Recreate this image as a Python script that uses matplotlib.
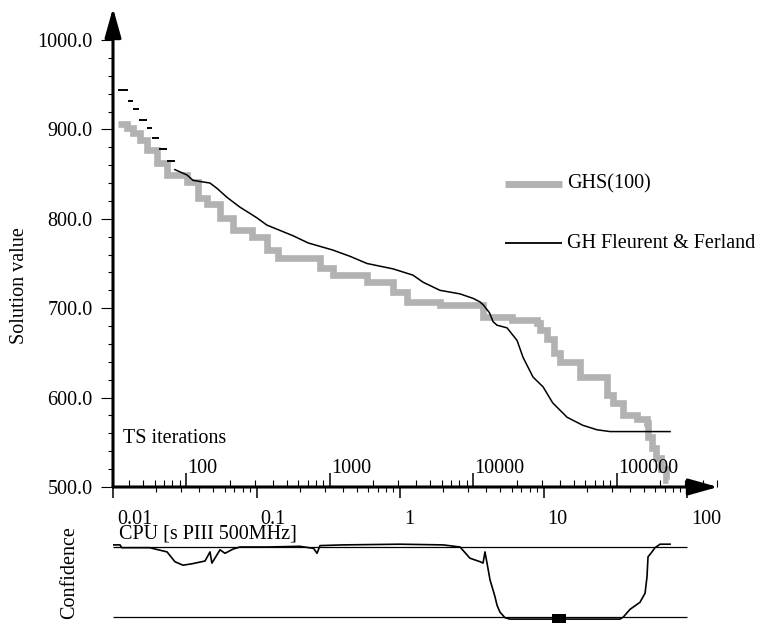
import matplotlib
matplotlib.use('Agg')
import matplotlib.pyplot as plt
import matplotlib.transforms as mtrans
from matplotlib.ticker import FixedLocator, LogLocator, NullFormatter, FormatStrFormatter
import numpy as np

# ---------------- data ----------------
# GHS(100): CPU time [s] and solution value (step series)
ghs_t = [0.0108, 0.0125, 0.0138, 0.0154, 0.0173, 0.0203, 0.0238, 0.0328, 0.0391, 0.0452,
         0.0557, 0.0686, 0.093, 0.118, 0.141, 0.277, 0.341, 0.589, 0.894, 1.12,
         1.90, 3.79, 6.0, 9.01, 9.46, 10.5, 11.9, 13.0, 17.9, 27.7,
         30.5, 35.8, 45.0, 52.6, 53.5, 57.0, 61.0, 66.0, 71.0, 74.0]
ghs_v = [906, 902, 896, 888, 877, 862, 849, 841, 823, 817,
         801, 787, 780, 765, 756, 745, 737, 729, 718, 707,
         704, 690, 687, 684, 676, 666, 650, 640, 623, 603,
         594, 580, 576, 572, 556, 544, 532, 520, 508, 508]

# GH Fleurent & Ferland
gh_t = [0.0108, 0.0127, 0.0138, 0.0152, 0.0173, 0.0187, 0.0209, 0.0238, 0.0270, 0.0328,
        0.0361, 0.0474, 0.0531, 0.0623, 0.0767, 0.0901, 0.1008, 0.118, 0.151, 0.180,
        0.229, 0.341, 0.449, 0.589, 0.894, 1.23, 1.45, 1.90, 2.62, 3.23,
        3.61, 3.79, 4.20, 4.45, 4.74, 5.57, 6.54, 7.20, 8.45, 9.93,
        11.6, 14.6, 18.8, 23.6, 29.1, 76.2]
gh_v = [944, 932, 923, 910, 902, 890, 878, 865, 855, 849,
        843, 840, 834, 824, 813, 806, 801, 793, 786, 781,
        773, 765, 758, 750, 744, 737, 729, 720, 716, 711,
        707, 704, 695, 685, 681, 678, 664, 645, 623, 612,
        594, 578, 569, 564, 562, 562]
gh_dashes = 8  # number of initial isolated step levels

# Confidence (1 = upper reference line, 0 = lower reference line)
conf_t = [0.01, 0.0112, 0.0115, 0.018, 0.0238, 0.0270, 0.0307, 0.0355, 0.0438, 0.0474,
          0.0489, 0.0557, 0.0603, 0.0686, 0.0767, 0.12, 0.2, 0.25, 0.264, 0.277,
          0.4, 1.0, 2.0, 2.62, 3.07, 3.61, 3.79, 3.91, 4.24, 4.59,
          4.74, 4.97, 5.39, 5.84, 34.1, 36.0, 40.1, 47.0, 51.0, 52.6,
          53.5, 57.0, 59.8, 64.9, 76.2]
conf_v = [1.03, 1.03, 0.99, 0.99, 0.93, 0.79, 0.74, 0.76, 0.80, 0.93,
          0.77, 0.96, 0.91, 0.97, 1.00, 1.00, 1.01, 0.98, 0.91, 1.02,
          1.03, 1.04, 1.03, 1.00, 0.84, 0.79, 0.77, 0.93, 0.53, 0.29,
          0.17, 0.07, -0.01, -0.03, -0.03, 0.00, 0.11, 0.21, 0.34, 0.57,
          0.86, 0.93, 0.99, 1.04, 1.04]
conf_levels = [0, 1]
conf_box_t = [11.5, 14.3]
conf_box_v = [-0.09, 0.04]

cpu_ticks = [0.01, 0.1, 1, 10, 100]
cpu_labels = ['0.01', '0.1', '1', '10', '100']
iter_ticks = [100, 1000, 10000, 100000]
iter_labels = ['100', '1000', '10000', '100000']
iters_per_sec = 3080.0
y_major = [500, 600, 700, 800, 900, 1000]
y_minor = list(range(500, 1001, 20))

series_labels = ['GHS(100)', 'GH Fleurent & Ferland']

# ---------------- style ----------------
plt.rcParams['font.family'] = ['Liberation Serif', 'DejaVu Serif']
FS = 14.5
GRAY = '#b2b2b2'
W, H, DPI = 761, 630, 100

fig = plt.figure(figsize=(W / DPI, H / DPI), dpi=DPI)

def fx(px):
    return px / W

def fy(py):
    return 1 - py / H

def off(dx, dy):
    return mtrans.ScaledTranslation(dx / DPI, dy / DPI, fig.dpi_scale_trans)

L, R, B, T = 113, 718, 487, 8
XLIM = (0.01, 164.4)
YLIM = (500, 1035.8)

ax = fig.add_axes([fx(L), fy(B), fx(R) - fx(L), fy(T) - fy(B)])
ax.set_xscale('log')
ax.set_xlim(*XLIM)
ax.set_ylim(*YLIM)
ax.patch.set_visible(False)
for sp in ax.spines.values():
    sp.set_visible(False)

# y axis ticks
ax.yaxis.set_major_locator(FixedLocator(y_major))
ax.yaxis.set_minor_locator(FixedLocator([v for v in y_minor if v not in y_major]))
ax.yaxis.set_major_formatter(FormatStrFormatter('%.1f'))
ax.tick_params(axis='y', which='major', direction='out', length=9, width=0.8,
               pad=5.8, labelsize=FS)
ax.tick_params(axis='y', which='minor', direction='out', length=3.6, width=0.8)

# CPU ticks (below axis)
ax.xaxis.set_major_locator(FixedLocator(cpu_ticks))
ax.xaxis.set_minor_locator(LogLocator(base=10, subs=np.arange(2, 10), numticks=30))
ax.xaxis.set_minor_formatter(NullFormatter())
ax.tick_params(axis='x', which='major', direction='out', length=8, width=1.1,
               labelbottom=False)
ax.tick_params(axis='x', which='minor', direction='out', length=3.6, width=0.8)

# iteration ticks (above axis)
ax2 = ax.twiny()
ax2.set_xscale('log')
ax2.set_xlim(XLIM[0] * iters_per_sec, XLIM[1] * iters_per_sec)
for sp in ax2.spines.values():
    sp.set_visible(False)
ax2.spines['top'].set_position(('axes', 0))
ax2.xaxis.set_ticks_position('top')
ax2.xaxis.set_major_locator(FixedLocator(iter_ticks))
ax2.xaxis.set_minor_locator(LogLocator(base=10, subs=np.arange(2, 10), numticks=30))
ax2.xaxis.set_minor_formatter(NullFormatter())
ax2.tick_params(axis='x', which='major', direction='out', length=10, width=1.1,
                labeltop=False, labelbottom=False)
ax2.tick_params(axis='x', which='minor', direction='out', length=5, width=0.8)

# axis lines with arrows
arrow_kw = dict(arrowstyle='-|>,head_length=1.5,head_width=0.42', lw=2.2,
                color='black', shrinkA=0, shrinkB=0, mutation_scale=12)
ax.annotate('', xy=(1, 0), xytext=(0, 0), xycoords='axes fraction',
            textcoords='axes fraction', arrowprops=arrow_kw)
ax.annotate('', xy=(0, 1), xytext=(0, 0), xycoords='axes fraction',
            textcoords='axes fraction', arrowprops=arrow_kw)

# tick labels
bx = mtrans.blended_transform_factory(ax.transData, ax.transAxes)
for t, lab in zip(cpu_ticks, cpu_labels):
    ax.text(t, 0, lab, transform=bx + off(4, -37), ha='left', va='baseline', fontsize=FS)
bx2 = mtrans.blended_transform_factory(ax2.transData, ax2.transAxes)
for it, lab in zip(iter_ticks, iter_labels):
    ax2.text(it, 0, lab, transform=bx2 + off(1, 14), ha='left', va='baseline', fontsize=FS)

# series
ax.step(ghs_t, ghs_v, where='post', color=GRAY, lw=4.8, solid_joinstyle='miter',
        solid_capstyle='butt', zorder=2)
ax.hlines(gh_v[:gh_dashes], gh_t[:gh_dashes], gh_t[1:gh_dashes + 1], color='black',
          lw=1.4, zorder=3)
ax.plot(gh_t[gh_dashes:], gh_v[gh_dashes:], color='black', lw=1.1, zorder=3)

# legend (manual)
lx0, lx1, ltx = 505, 562, 567
for (yy, col, lw), lab in zip([(184, GRAY, 5.0), (243, 'black', 1.3)], series_labels):
    fig.add_artist(plt.Line2D([fx(lx0), fx(lx1)], [fy(yy), fy(yy)], color=col, lw=lw,
                              solid_capstyle='butt', transform=fig.transFigure))
    fig.text(fx(ltx), fy(yy), lab, ha='left', va='center', fontsize=FS)

# labels
fig.text(fx(20), fy(286), 'Solution value', rotation=90, ha='center', va='center', fontsize=FS)
fig.text(fx(123), fy(443), 'TS iterations', ha='left', va='baseline', fontsize=FS)
fig.text(fx(119), fy(539), 'CPU [s PIII 500MHz]', ha='left', va='baseline', fontsize=FS)
fig.text(fx(70), fy(573), 'Confidence', rotation=90, ha='center', va='center', fontsize=FS)

# confidence panel
CT, CB = 525, 630
axc = fig.add_axes([fx(L), fy(CB), fx(R) - fx(L), fy(CT) - fy(CB)])
axc.set_xscale('log')
axc.set_xlim(*XLIM)
axc.set_ylim((617 - CB) / 70.0, (617 - CT) / 70.0)
axc.axis('off')
axc.hlines(conf_levels, cpu_ticks[0], cpu_ticks[-1], color='black', lw=0.9)
axc.plot(conf_t, conf_v, color='black', lw=1.2)
axc.fill_between(conf_box_t, conf_box_v[0], conf_box_v[1], color='black', lw=0)

fig.savefig('out.png', dpi=DPI)
